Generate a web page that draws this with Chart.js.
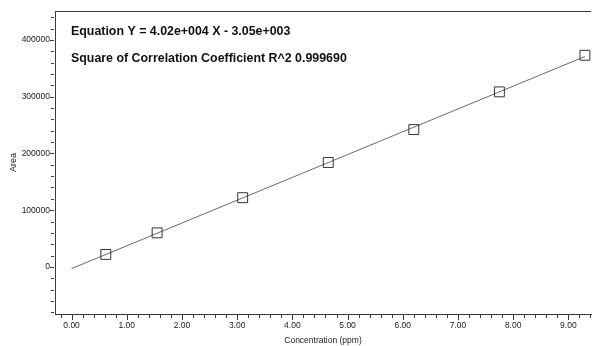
<!DOCTYPE html>
<html><head><meta charset="utf-8">
<script src="https://cdn.jsdelivr.net/npm/chart.js@4"></script>
<style>html,body{margin:0;padding:0;background:#fff;overflow:hidden}#wrap{width:592px;height:346px;position:relative}</style>
</head><body><div id="wrap"><canvas id="c"></canvas></div>
<script>
// ---- data ----
const concentrations = [0.62, 1.55, 3.10, 4.65, 6.20, 7.75, 9.30];
const areas = [22000, 60000, 122000, 184000, 242000, 308500, 373000];
// regression line endpoints (from printed equation Y = 4.02e4 X - 3.05e3)
const fitX = [0, 9.30];
const fitY = [-3050, 370810];
const xTickLabels = ['0.00','1.00','2.00','3.00','4.00','5.00','6.00','7.00','8.00','9.00'];
const yTickLabels = ['0','100000','200000','300000','400000'];
const xTitle = 'Concentration (ppm)';
const yTitle = 'Area';
const annotationLines = ['Equation Y = 4.02e+004 X - 3.05e+003', 'Square of Correlation Coefficient R^2 0.999690'];

const FONT = '"Liberation Sans", Arial, sans-serif';
const AXIS_COLOR = '#3a3a3a';
const TEXT_COLOR = '#222';

const xMin = -0.3, xMax = 9.41, xMinorStep = 0.2;
const yMin = -83000, yMax = 451000, yMinorStep = 20000;

function buildTickValues(min, max, step) {
  const out = [];
  const start = Math.ceil(min / step - 1e-9);
  const end = Math.floor(max / step + 1e-9);
  for (let i = start; i <= end; i++) out.push(+(i * step).toFixed(6));
  return out;
}
const xTickValues = buildTickValues(xMin, xMax, xMinorStep);
const yTickValues = buildTickValues(yMin, yMax, yMinorStep);

function xLabelFor(v) {
  const r = Math.round(v);
  if (Math.abs(v - r) < 1e-6) { const s = r.toFixed(2); return xTickLabels.includes(s) ? s : ''; }
  return '';
}
function yLabelFor(v) { const s = String(Math.round(v)); return (v % 100000 === 0 && yTickLabels.includes(s)) ? s : ''; }

const frameAndTicks = {
  id: 'frameAndTicks',
  afterDraw(chart) {
    const {ctx, chartArea: a, scales: {x, y}} = chart;
    ctx.save();
    ctx.strokeStyle = AXIS_COLOR;
    ctx.lineWidth = 1;
    ctx.beginPath();
    // top frame line
    ctx.moveTo(a.left, a.top + 0.5); ctx.lineTo(a.right, a.top + 0.5);
    // x tick marks
    xTickValues.forEach(v => {
      const px = Math.round(x.getPixelForValue(v)) + 0.5;
      const major = xLabelFor(v) !== '';
      ctx.moveTo(px, a.bottom + 1); ctx.lineTo(px, a.bottom + (major ? 6 : 4));
    });
    // y tick marks
    yTickValues.forEach(v => {
      const py = Math.round(y.getPixelForValue(v)) + 0.5;
      const major = yLabelFor(v) !== '';
      ctx.moveTo(a.left - 1, py); ctx.lineTo(a.left - (major ? 5 : 4), py);
    });
    ctx.stroke();
    // annotation text
    ctx.fillStyle = '#111';
    ctx.font = 'bold 12.4px ' + FONT;
    ctx.textBaseline = 'alphabetic';
    ctx.textAlign = 'left';
    ctx.fillText(annotationLines[0], 71, 35);
    ctx.fillText(annotationLines[1], 71, 62);
    ctx.restore();
  }
};

new Chart(document.getElementById('c'), {
  type: 'scatter',
  data: {
    datasets: [
      {
        label: 'Standards',
        data: concentrations.map((c, i) => ({x: c, y: areas[i]})),
        pointStyle: 'rect',
        pointRadius: 7,
        pointHoverRadius: 7,
        pointBorderWidth: 1,
        pointBorderColor: '#333',
        pointBackgroundColor: 'rgba(0,0,0,0)',
        showLine: false,
        order: 1
      },
      {
        label: 'Fit',
        data: fitX.map((c, i) => ({x: c, y: fitY[i]})),
        showLine: true,
        borderColor: '#6a6a6a',
        borderWidth: 1,
        pointRadius: 0,
        pointHoverRadius: 0,
        fill: false,
        order: 2
      }
    ]
  },
  options: {
    responsive: true,
    maintainAspectRatio: false,
    devicePixelRatio: 1,
    animation: false,
    events: [],
    layout: {autoPadding: false, padding: {top: 11, right: 1, left: 0, bottom: 0}},
    plugins: {legend: {display: false}, tooltip: {enabled: false}},
    scales: {
      x: {
        type: 'linear', min: xMin, max: xMax,
        afterBuildTicks: s => { s.ticks = xTickValues.map(v => ({value: v})); },
        afterFit: s => { s.height = 32; s.paddingLeft = 0; s.paddingRight = 0; },
        grid: {display: true, drawOnChartArea: false, drawTicks: true, tickLength: 7, tickColor: 'rgba(0,0,0,0)'},
        border: {display: true, color: AXIS_COLOR, width: 1},
        ticks: {autoSkip: false, maxRotation: 0, minRotation: 0, padding: 0,
                color: TEXT_COLOR, font: {family: FONT, size: 8.5},
                callback: v => xLabelFor(v)},
        title: {display: true, text: xTitle, color: TEXT_COLOR, font: {family: FONT, size: 8.5},
                padding: {top: 0, bottom: 0}}
      },
      y: {
        type: 'linear', min: yMin, max: yMax,
        afterBuildTicks: s => { s.ticks = yTickValues.map(v => ({value: v})); },
        afterFit: s => { s.width = 55; s.paddingTop = 0; s.paddingBottom = 0; },
        grid: {display: true, drawOnChartArea: false, drawTicks: true, tickLength: 5, tickColor: 'rgba(0,0,0,0)'},
        border: {display: true, color: AXIS_COLOR, width: 1},
        ticks: {autoSkip: false, padding: 0, color: TEXT_COLOR, font: {family: FONT, size: 8.5},
                callback: v => yLabelFor(v)},
        title: {display: true, text: yTitle, color: TEXT_COLOR, font: {family: FONT, size: 9},
                padding: {top: 8, bottom: 0}}
      }
    }
  },
  plugins: [frameAndTicks]
});
</script>
</body></html>
